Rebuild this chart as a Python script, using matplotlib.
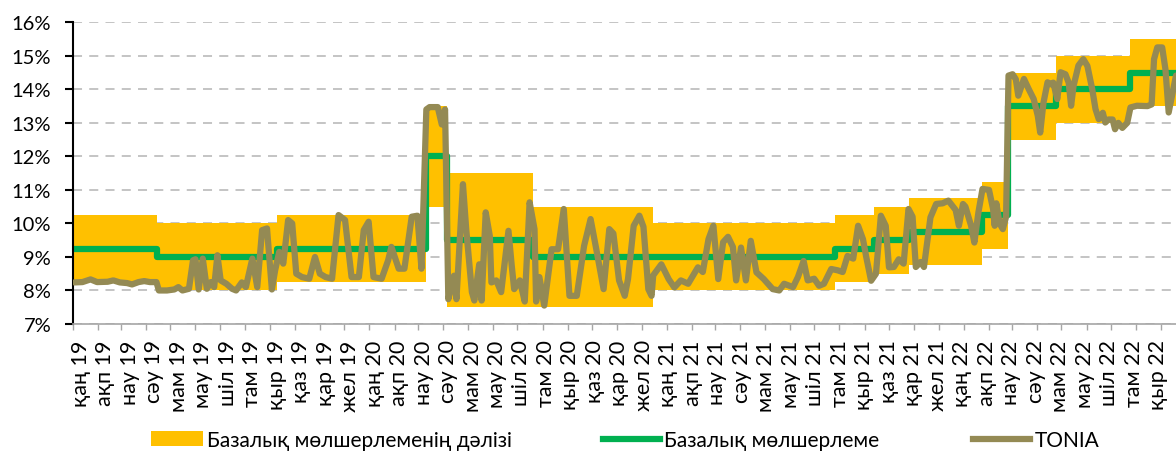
import numpy as np
import pandas as pd
import matplotlib
matplotlib.use('Agg')
import matplotlib.pyplot as plt
from matplotlib.patches import Patch
from matplotlib.lines import Line2D

plt.rcParams['font.family'] = ['Lato', 'Noto Sans', 'DejaVu Sans']

# базалық мөлшерлеме (step changes)
rate_dates = ['2019-01-02', '2019-04-15', '2019-09-09', '2020-03-10', '2020-04-06',
              '2020-07-20', '2021-07-26', '2021-09-13', '2021-10-25', '2022-01-24',
              '2022-02-24', '2022-04-25', '2022-07-25']
rate_vals = [9.25, 9.0, 9.25, 12.0, 9.5, 9.0, 9.25, 9.5, 9.75, 10.25, 13.5, 14.0, 14.5]

# дәліз (corridor)
corr_dates = ['2019-01-02', '2019-04-15', '2019-09-09', '2020-03-10', '2020-04-06',
              '2020-07-20', '2020-12-15', '2021-07-26', '2021-09-13', '2021-10-25',
              '2022-01-24', '2022-02-24', '2022-04-25', '2022-07-25']
corr_low = [8.25, 8.0, 8.25, 10.5, 7.5, 7.5, 8.0, 8.25, 8.5, 8.75, 9.25, 12.5, 13.0, 13.5]
corr_high = [10.25, 10.0, 10.25, 13.5, 11.5, 10.5, 10.0, 10.25, 10.5, 10.75, 11.25, 14.5, 15.0, 15.5]

start_date = '2019-01-02'
end_date = '2022-09-19'

# TONIA
tonia_dates = [
    '2019-01-03', '2019-01-13', '2019-01-23', '2019-01-31', '2019-02-13', '2019-02-20',
    '2019-02-28', '2019-03-09', '2019-03-15', '2019-03-23', '2019-03-30', '2019-04-06',
    '2019-04-14', '2019-04-17', '2019-04-27', '2019-05-06', '2019-05-11', '2019-05-16',
    '2019-05-24', '2019-05-29', '2019-06-01', '2019-06-05', '2019-06-10', '2019-06-15',
    '2019-06-20', '2019-06-24', '2019-06-28', '2019-07-02', '2019-07-09', '2019-07-16',
    '2019-07-21', '2019-07-28', '2019-08-02', '2019-08-10', '2019-08-16', '2019-08-22',
    '2019-08-28', '2019-09-03', '2019-09-07', '2019-09-12', '2019-09-17', '2019-09-23',
    '2019-09-28', '2019-10-03', '2019-10-10', '2019-10-19', '2019-10-26', '2019-11-01',
    '2019-11-08', '2019-11-16', '2019-11-24', '2019-12-02', '2019-12-10', '2019-12-19',
    '2019-12-25', '2019-12-31', '2020-01-06', '2020-01-16', '2020-01-24', '2020-01-28',
    '2020-02-06', '2020-02-13', '2020-02-22', '2020-02-29', '2020-03-05', '2020-03-11',
    '2020-03-15', '2020-03-25', '2020-03-30', '2020-04-03', '2020-04-07', '2020-04-14',
    '2020-04-17', '2020-04-25', '2020-04-29', '2020-05-06', '2020-05-09', '2020-05-15',
    '2020-05-18', '2020-05-23', '2020-05-28', '2020-05-30', '2020-06-05', '2020-06-11',
    '2020-06-20', '2020-06-24', '2020-06-27', '2020-07-04', '2020-07-10', '2020-07-16',
    '2020-07-22', '2020-07-24', '2020-07-28', '2020-08-03', '2020-08-12', '2020-08-20',
    '2020-08-27', '2020-08-30', '2020-09-03', '2020-09-12', '2020-09-21', '2020-09-29',
    '2020-10-06', '2020-10-15', '2020-10-22', '2020-10-27', '2020-11-03', '2020-11-10',
    '2020-11-14', '2020-11-21', '2020-11-28', '2020-12-03', '2020-12-09', '2020-12-13',
    '2020-12-15', '2020-12-25', '2021-01-03', '2021-01-10', '2021-01-18', '2021-01-27',
    '2021-02-08', '2021-02-14', '2021-02-21', '2021-02-27', '2021-03-05', '2021-03-11',
    '2021-03-17', '2021-03-23', '2021-03-27', '2021-04-02', '2021-04-08', '2021-04-14',
    '2021-04-21', '2021-04-30', '2021-05-11', '2021-05-19', '2021-05-25', '2021-06-05',
    '2021-06-11', '2021-06-18', '2021-06-23', '2021-07-01', '2021-07-07', '2021-07-13',
    '2021-07-22', '2021-07-30', '2021-08-05', '2021-08-11', '2021-08-18', '2021-08-24',
    '2021-08-30', '2021-09-03', '2021-09-09', '2021-09-15', '2021-09-21', '2021-09-27',
    '2021-10-01', '2021-10-07', '2021-10-13', '2021-10-19', '2021-10-25', '2021-10-30',
    '2021-11-03', '2021-11-09', '2021-11-13', '2021-11-21', '2021-11-28', '2021-12-06',
    '2021-12-13', '2021-12-22', '2021-12-26', '2021-12-31', '2022-01-03', '2022-01-10',
    '2022-01-14', '2022-01-19', '2022-01-24', '2022-02-01', '2022-02-06', '2022-02-08',
    '2022-02-10', '2022-02-14', '2022-02-18', '2022-02-22', '2022-02-25', '2022-03-02',
    '2022-03-06', '2022-03-09', '2022-03-16', '2022-03-22', '2022-03-28', '2022-04-02',
    '2022-04-05', '2022-04-09', '2022-04-14', '2022-04-18', '2022-04-21', '2022-04-26',
    '2022-04-30', '2022-05-06', '2022-05-10', '2022-05-13', '2022-05-16', '2022-05-22',
    '2022-05-28', '2022-06-02', '2022-06-08', '2022-06-12', '2022-06-16', '2022-06-21',
    '2022-06-24', '2022-06-28', '2022-07-03', '2022-07-06', '2022-07-10', '2022-07-15',
    '2022-07-21', '2022-07-25', '2022-08-02', '2022-08-15', '2022-08-20', '2022-08-23',
    '2022-08-27', '2022-09-02', '2022-09-06', '2022-09-10', '2022-09-14', '2022-09-19']
tonia_vals = [
    8.24, 8.25, 8.33, 8.25, 8.26, 8.30,
    8.24, 8.22, 8.18, 8.25, 8.28, 8.25,
    8.25, 8.00, 8.00, 8.03, 8.10, 8.00,
    8.05, 8.90, 8.93, 8.03, 8.95, 8.05,
    8.25, 8.10, 9.05, 8.30, 8.20, 8.05,
    8.00, 8.24, 8.10, 8.95, 8.10, 9.80,
    9.85, 8.03, 8.60, 9.15, 8.80, 10.10,
    10.00, 8.50, 8.40, 8.35, 9.00, 8.50,
    8.40, 8.35, 10.25, 10.10, 8.40, 8.40,
    9.80, 10.05, 8.40, 8.35, 8.90, 9.30,
    8.65, 8.65, 10.20, 10.23, 8.65, 13.40,
    13.47, 13.47, 12.95, 13.40, 7.74, 8.44,
    7.74, 11.17, 9.83, 7.95, 7.70, 8.78,
    7.70, 10.33, 9.63, 8.24, 8.30, 7.95,
    9.78, 8.74, 8.04, 8.30, 7.67, 10.63,
    9.83, 7.67, 8.40, 7.55, 9.23, 9.23,
    10.43, 9.30, 7.84, 7.84, 9.33, 10.13,
    9.23, 8.04, 9.83, 9.70, 8.30, 7.84,
    8.34, 9.93, 10.23, 9.90, 8.04, 7.84,
    8.45, 8.78, 8.34, 8.09, 8.30, 8.20,
    8.69, 8.55, 9.53, 9.93, 8.34, 9.44,
    9.60, 9.30, 8.30, 9.28, 8.30, 9.48,
    8.54, 8.34, 8.04, 8.00, 8.20, 8.10,
    8.40, 8.88, 8.30, 8.35, 8.14, 8.20,
    8.64, 8.60, 8.55, 9.03, 8.95, 9.93,
    9.53, 9.00, 8.29, 8.50, 10.23, 9.93,
    8.69, 8.70, 8.93, 8.80, 10.43, 10.20,
    8.70, 8.85, 8.70, 10.18, 10.58, 10.60,
    10.68, 10.40, 9.93, 10.58, 10.50, 9.93,
    9.43, 10.33, 11.03, 11.00, 10.43, 9.93,
    10.60, 10.00, 9.83, 10.20, 14.41, 14.45,
    14.30, 13.81, 14.31, 14.00, 13.71, 13.21,
    12.71, 13.60, 14.21, 14.15, 14.20, 13.71,
    14.51, 14.45, 14.20, 13.51, 14.10, 14.71,
    14.90, 14.70, 14.00, 13.41, 13.11, 13.30,
    13.01, 13.10, 13.10, 12.81, 13.00, 12.85,
    13.00, 13.46, 13.51, 13.50, 13.55, 14.90,
    15.25, 15.25, 14.60, 13.31, 13.80, 14.41]

month_names = ['қаң', 'ақп', 'нау', 'сәу', 'мам', 'мау', 'шіл', 'там', 'қыр', 'қаз', 'қар', 'жел']
tick_months = pd.date_range('2019-01-01', '2022-09-01', freq='MS')
tick_labels = [f'{month_names[d.month - 1]} {d.year % 100}' for d in tick_months]

yellow = '#FFC000'
green = '#00B050'
olive = '#948A54'

# step arrays need the closing date
rd = pd.to_datetime(rate_dates + [end_date])
rv = rate_vals + [rate_vals[-1]]
cd = pd.to_datetime(corr_dates + [end_date])
cl = corr_low + [corr_low[-1]]
ch = corr_high + [corr_high[-1]]
td = pd.to_datetime(tonia_dates)

fig = plt.figure(figsize=(11.76, 4.52), dpi=100)
ax = fig.add_axes([0.0618, 0.281, 0.9382, 0.6675])

ax.fill_between(cd, cl, ch, step='post', color=yellow, lw=0, zorder=1)
ax.step(rd, rv, where='post', color=green, lw=4.5, zorder=2)
ax.plot(td, tonia_vals, color=olive, lw=4.5, solid_joinstyle='round',
        solid_capstyle='round', zorder=3)

ax.set_xlim(pd.Timestamp(start_date), pd.Timestamp(end_date))
ax.set_ylim(7, 16)
ax.set_yticks(range(7, 17))
ax.set_yticklabels([f'{v}%' for v in range(7, 17)])

# tick marks on month starts, labels spaced a little tighter (as in the source chart)
ax.set_xticks(tick_months, minor=True)
label_pos = pd.Timestamp('2019-01-11') + pd.to_timedelta(np.arange(len(tick_labels)) * 30.11, unit='D')
ax.set_xticks(label_pos)
ax.set_xticklabels(tick_labels, rotation=90, ha='center', va='top')

ax.yaxis.grid(True, color='#BFBFBF', linestyle=(0, (5, 4)), lw=1.3)
ax.set_axisbelow(True)

for s in ['top', 'right']:
    ax.spines[s].set_visible(False)
ax.spines['left'].set_color('black')
ax.spines['left'].set_linewidth(1.5)
ax.spines['bottom'].set_color('#A6A6A6')
ax.spines['bottom'].set_linewidth(1.2)

ax.tick_params(axis='y', direction='out', length=5.5, width=1.5, color='black',
               pad=10, labelsize=14.5)
ax.tick_params(axis='x', which='major', length=0, pad=11, labelsize=15.5)
ax.tick_params(axis='x', which='minor', direction='out', length=4, width=1,
               color='#A6A6A6')

# legend, three separate entries placed along the bottom
leg_y = 1 - 441 / 452
entries = [
    (Patch(facecolor=yellow, edgecolor='none'), 'Базалық мөлшерлеменің дәлізі', 151, 2.5),
    (Line2D([0], [0], color=green, lw=4.5), 'Базалық мөлшерлеме', 603, 2.75),
    (Line2D([0], [0], color=olive, lw=4.5), 'TONIA', 973, 2.75),
]
for h, lab, px, hl in entries:
    fig.legend([h], [lab], loc='center left', bbox_to_anchor=(px / 1176, leg_y),
               frameon=False, fontsize=15, handlelength=hl, handletextpad=0.2,
               borderpad=0, borderaxespad=0)

fig.savefig('out.png', dpi=100)
